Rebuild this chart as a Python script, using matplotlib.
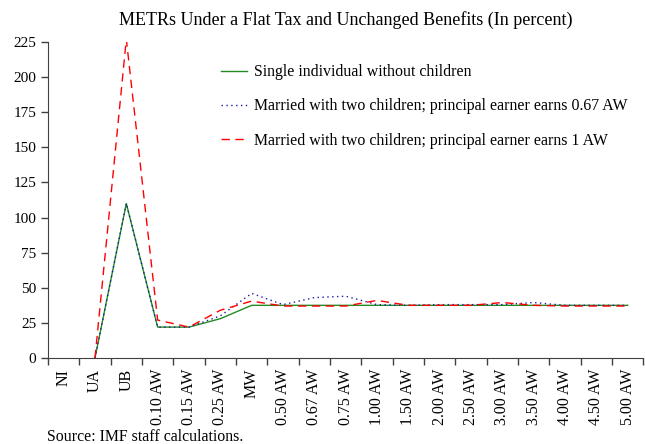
import numpy as np
import matplotlib
matplotlib.use('Agg')
from matplotlib import pyplot as plt

plt.rcParams['font.family'] = ['Liberation Serif', 'DejaVu Serif']

categories = ['NI', 'UA', 'UB', '0.10 AW', '0.15 AW', '0.25 AW', 'MW', '0.50 AW',
              '0.67 AW', '0.75 AW', '1.00 AW', '1.50 AW', '2.00 AW', '2.50 AW',
              '3.00 AW', '3.50 AW', '4.00 AW', '4.50 AW', '5.00 AW']
nan = np.nan
single = [nan, 0, 110, 22, 22, 28, 37.5, 37.5, 37.5, 37.5, 37.5, 37.5, 37.5, 37.5,
          37.5, 37.5, 37.5, 37.5, 37.5]
married_067 = [nan, 0, 110, 22, 22, 30, 46, 38, 43, 44, 38, 37.5, 38, 38,
               38, 39.5, 37.5, 37.5, 37.5]
married_1 = [nan, 0, 227, 27, 22, 34, 40.5, 37, 37, 37, 41, 37.5, 37.5, 37.5,
             39.5, 37.5, 37, 37, 37]

labels = ['Single individual without children',
          'Married with two children; principal earner earns 0.67 AW',
          'Married with two children; principal earner earns 1 AW']

fig = plt.figure(figsize=(6.45, 4.44), dpi=100)
ax = fig.add_axes([0.0744, 0.1937, 0.923, 0.7117])
x = np.arange(len(categories))

ax.plot(x, single, color='#228B22', lw=1.0, label=labels[0])
ax.plot(x, married_067, color='#1a1aa6', lw=1.0, ls=(0, (1, 2.5)), label=labels[1])
ax.plot(x, married_1, color='#ff0000', lw=1.0, ls=(0, (6, 4)), label=labels[2])

ax.set_xlim(-0.5, len(categories) - 0.5)
ax.set_ylim(0, 225)
ax.set_yticks(np.arange(0, 226, 25))
ax.set_xticks(np.arange(-0.5, len(categories), 1))
ax.set_xticklabels([])
ax.set_xticks(x, minor=True)
ax.set_xticklabels(categories, minor=True, rotation=90, fontsize=11.5)
ax.tick_params(axis='x', which='major', length=5, width=1, direction='out')
ax.tick_params(axis='x', which='minor', length=0, pad=8)
ax.tick_params(axis='y', length=5, width=1, labelsize=11)
for s in ['top', 'right']:
    ax.spines[s].set_visible(False)
ax.spines['left'].set_color('#404040')
ax.spines['bottom'].set_color('#404040')
ax.tick_params(colors='#404040', labelcolor='black')

ax.set_title('METRs Under a Flat Tax and Unchanged Benefits (In percent)',
             fontsize=13, pad=12)

leg = ax.legend(loc='upper left', bbox_to_anchor=(0.267, 0.975), frameon=False,
                fontsize=11.4, handlelength=1.6, handletextpad=0.45, labelspacing=1.15)

fig.text(0.073, 0.006, 'Source: IMF staff calculations.', fontsize=11.4)

fig.savefig('out.png', dpi=100)
